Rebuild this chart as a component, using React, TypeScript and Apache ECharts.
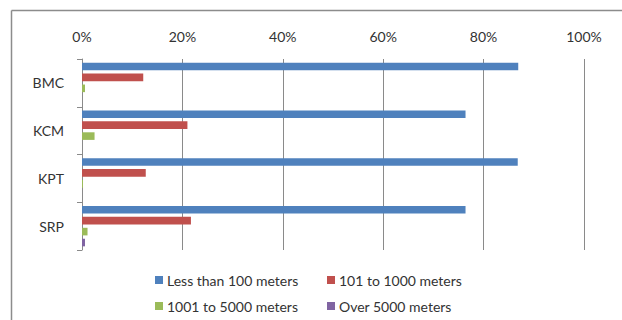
import React, { useEffect, useRef } from "react";
import * as echarts from "echarts";

// Share of trips by distance band, per site (percent)
const sites = ["BMC", "KCM", "KPT", "SRP"];
const lessThan100 = [86.9, 76.4, 86.8, 76.4];
const from101To1000 = [12.2, 21.0, 12.7, 21.7];
const from1001To5000 = [0.6, 2.5, 0.2, 1.1];
const over5000 = [0, 0, 0, 0.6];
const seriesNames = [
  "Less than 100 meters",
  "101 to 1000 meters",
  "1001 to 5000 meters",
  "Over 5000 meters",
];
const colors = ["#4F81BD", "#C0504D", "#9BBB59", "#8064A2"];

const FONT = "Lato, 'Open Sans', sans-serif";
const TEXT = "#333";
const GRID_GRAY = "#8a8a8a";

export default function App() {
  const ref = useRef<HTMLDivElement>(null);

  useEffect(() => {
    if (!ref.current) return;
    const chart = echarts.init(ref.current, undefined, { renderer: "svg" });
    const values = [lessThan100, from101To1000, from1001To5000, over5000];

    const legendText = { color: TEXT, fontSize: 14, fontFamily: FONT, padding: [0, 0, 0, -1] };

    chart.setOption({
      animation: false,
      backgroundColor: "#fff",
      textStyle: { fontFamily: FONT },
      grid: { left: 82, right: 38, top: 59, height: 191, containLabel: false },
      xAxis: {
        type: "value",
        position: "top",
        min: 0,
        max: 100,
        interval: 20,
        axisLine: { show: false },
        axisTick: { show: false },
        axisLabel: {
          formatter: "{value}%",
          color: TEXT,
          fontSize: 14,
          fontFamily: FONT,
          margin: 16,
        },
        splitLine: { show: true, lineStyle: { color: GRID_GRAY, width: 1 } },
      },
      yAxis: {
        type: "category",
        data: sites,
        inverse: true,
        axisLine: { show: true, lineStyle: { color: GRID_GRAY, width: 1 } },
        axisTick: {
          show: true,
          length: 5,
          lineStyle: { color: GRID_GRAY, width: 1 },
        },
        axisLabel: { color: TEXT, fontSize: 14, fontFamily: FONT, margin: 18 },
        splitLine: { show: false },
      },
      legend: [
        {
          data: [seriesNames[0], seriesNames[2]],
          orient: "vertical",
          left: 150,
          top: 268,
          itemWidth: 8,
          itemHeight: 8,
          itemGap: 12,
          icon: "rect",
          textStyle: legendText,
        },
        {
          data: [seriesNames[1], seriesNames[3]],
          orient: "vertical",
          left: 322,
          top: 268,
          itemWidth: 8,
          itemHeight: 8,
          itemGap: 12,
          icon: "rect",
          textStyle: legendText,
        },
      ],
      series: seriesNames.map((name, i) => ({
        name,
        type: "bar",
        data: values[i],
        barWidth: 7.6,
        barGap: "44%",
        itemStyle: { color: colors[i] },
      })),
      color: colors,
      graphic: [
        {
          type: "line",
          shape: { x1: 11.5, y1: 10.5, x2: 622, y2: 10.5 },
          style: { stroke: "#8c8c8c", lineWidth: 1.5 },
        },
        {
          type: "line",
          shape: { x1: 11.5, y1: 10.5, x2: 11.5, y2: 320 },
          style: { stroke: "#8c8c8c", lineWidth: 1.5 },
        },
      ],
    });

    return () => chart.dispose();
  }, []);

  return (
    <div
      ref={ref}
      style={{
        position: "fixed",
        left: 0,
        top: 0,
        width: 622,
        height: 320,
        background: "#fff",
      }}
    />
  );
}
